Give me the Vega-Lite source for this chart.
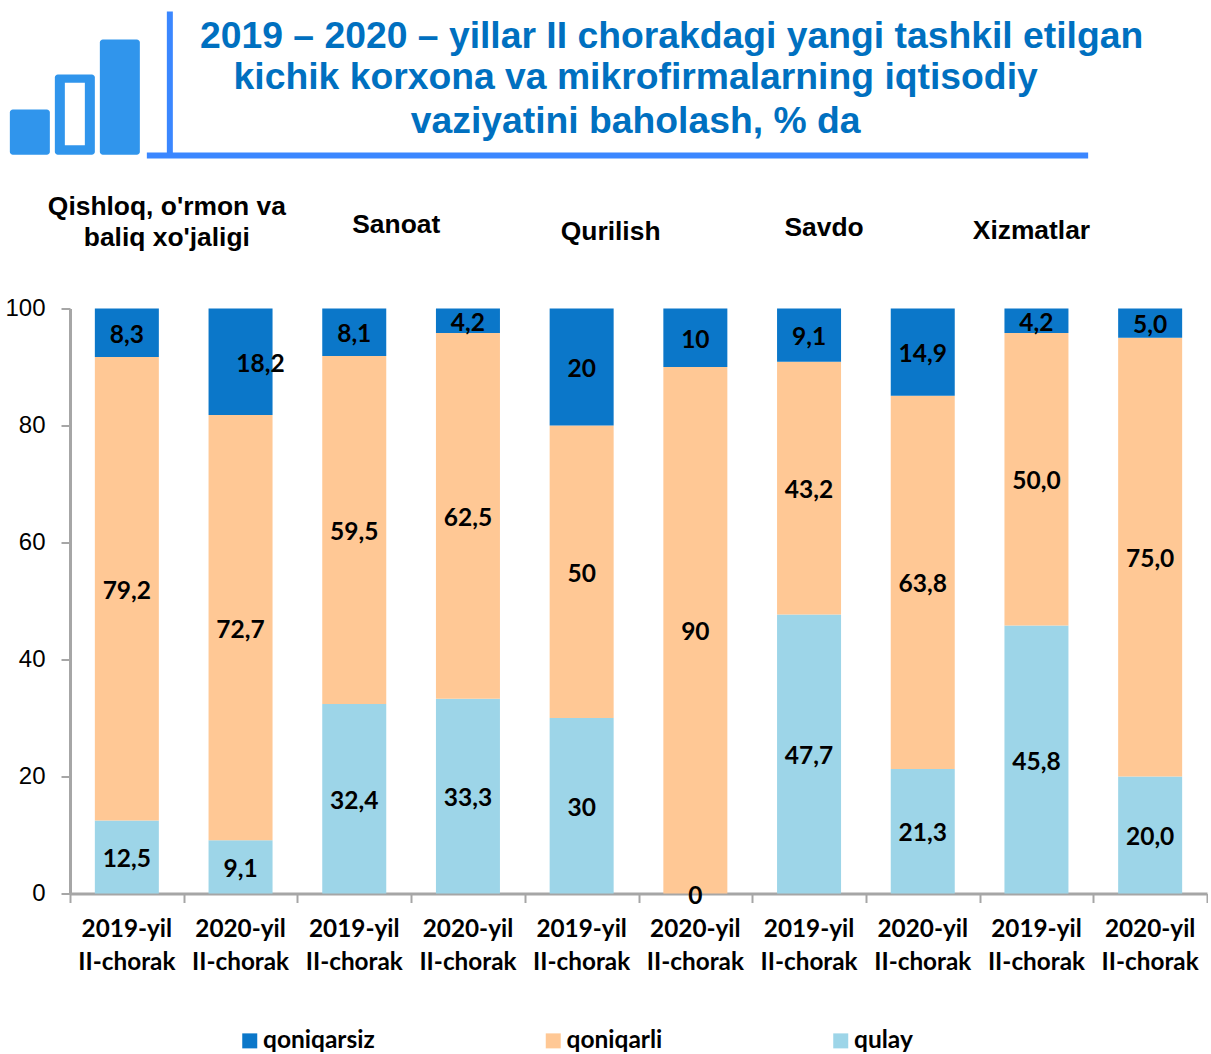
{"$schema":"https://vega.github.io/schema/vega-lite/v6.json","width":1137,"height":585,"padding":{"left":4,"top":7.5,"right":0,"bottom":0},"background":"white","config":{"view":{"stroke":null}},
"datasets":{"main":[
{"guruh":"Qishloq 2019","baho":"qulay","sira":1,"qiymat":12.5,"yozuv":"12,5"},{"guruh":"Qishloq 2019","baho":"qoniqarli","sira":2,"qiymat":79.2,"yozuv":"79,2"},{"guruh":"Qishloq 2019","baho":"qoniqarsiz","sira":3,"qiymat":8.3,"yozuv":"8,3"},
{"guruh":"Qishloq 2020","baho":"qulay","sira":1,"qiymat":9.1,"yozuv":"9,1"},{"guruh":"Qishloq 2020","baho":"qoniqarli","sira":2,"qiymat":72.7,"yozuv":"72,7"},{"guruh":"Qishloq 2020","baho":"qoniqarsiz","sira":3,"qiymat":18.2,"yozuv":"18,2"},
{"guruh":"Sanoat 2019","baho":"qulay","sira":1,"qiymat":32.4,"yozuv":"32,4"},{"guruh":"Sanoat 2019","baho":"qoniqarli","sira":2,"qiymat":59.5,"yozuv":"59,5"},{"guruh":"Sanoat 2019","baho":"qoniqarsiz","sira":3,"qiymat":8.1,"yozuv":"8,1"},
{"guruh":"Sanoat 2020","baho":"qulay","sira":1,"qiymat":33.3,"yozuv":"33,3"},{"guruh":"Sanoat 2020","baho":"qoniqarli","sira":2,"qiymat":62.5,"yozuv":"62,5"},{"guruh":"Sanoat 2020","baho":"qoniqarsiz","sira":3,"qiymat":4.2,"yozuv":"4,2"},
{"guruh":"Qurilish 2019","baho":"qulay","sira":1,"qiymat":30,"yozuv":"30"},{"guruh":"Qurilish 2019","baho":"qoniqarli","sira":2,"qiymat":50,"yozuv":"50"},{"guruh":"Qurilish 2019","baho":"qoniqarsiz","sira":3,"qiymat":20,"yozuv":"20"},
{"guruh":"Qurilish 2020","baho":"qulay","sira":1,"qiymat":0,"yozuv":"0"},{"guruh":"Qurilish 2020","baho":"qoniqarli","sira":2,"qiymat":90,"yozuv":"90"},{"guruh":"Qurilish 2020","baho":"qoniqarsiz","sira":3,"qiymat":10,"yozuv":"10"},
{"guruh":"Savdo 2019","baho":"qulay","sira":1,"qiymat":47.7,"yozuv":"47,7"},{"guruh":"Savdo 2019","baho":"qoniqarli","sira":2,"qiymat":43.2,"yozuv":"43,2"},{"guruh":"Savdo 2019","baho":"qoniqarsiz","sira":3,"qiymat":9.1,"yozuv":"9,1"},
{"guruh":"Savdo 2020","baho":"qulay","sira":1,"qiymat":21.3,"yozuv":"21,3"},{"guruh":"Savdo 2020","baho":"qoniqarli","sira":2,"qiymat":63.8,"yozuv":"63,8"},{"guruh":"Savdo 2020","baho":"qoniqarsiz","sira":3,"qiymat":14.9,"yozuv":"14,9"},
{"guruh":"Xizmatlar 2019","baho":"qulay","sira":1,"qiymat":45.8,"yozuv":"45,8"},{"guruh":"Xizmatlar 2019","baho":"qoniqarli","sira":2,"qiymat":50,"yozuv":"50,0"},{"guruh":"Xizmatlar 2019","baho":"qoniqarsiz","sira":3,"qiymat":4.2,"yozuv":"4,2"},
{"guruh":"Xizmatlar 2020","baho":"qulay","sira":1,"qiymat":20,"yozuv":"20,0"},{"guruh":"Xizmatlar 2020","baho":"qoniqarli","sira":2,"qiymat":75,"yozuv":"75,0"},{"guruh":"Xizmatlar 2020","baho":"qoniqarsiz","sira":3,"qiymat":5,"yozuv":"5,0"}
],
"etiketka":[{"guruh":"Qishloq 2019","t":"2019-yil\nII-chorak"},{"guruh":"Qishloq 2020","t":"2020-yil\nII-chorak"},{"guruh":"Sanoat 2019","t":"2019-yil\nII-chorak"},{"guruh":"Sanoat 2020","t":"2020-yil\nII-chorak"},{"guruh":"Qurilish 2019","t":"2019-yil\nII-chorak"},{"guruh":"Qurilish 2020","t":"2020-yil\nII-chorak"},{"guruh":"Savdo 2019","t":"2019-yil\nII-chorak"},{"guruh":"Savdo 2020","t":"2020-yil\nII-chorak"},{"guruh":"Xizmatlar 2019","t":"2019-yil\nII-chorak"},{"guruh":"Xizmatlar 2020","t":"2020-yil\nII-chorak"}]},
"data":{"name":"main"},
"encoding":{
"x":{"field":"guruh","type":"nominal","title":null,"sort":null,"axis":null,
"scale":{"domain":["Qishloq 2019","Qishloq 2020","Sanoat 2019","Sanoat 2020","Qurilish 2019","Qurilish 2020","Savdo 2019","Savdo 2020","Xizmatlar 2019","Xizmatlar 2020"],"paddingInner":0,"paddingOuter":0}}
},
"layer":[
{"mark":{"type":"bar","size":64},
"encoding":{
"x":{"field":"guruh","type":"nominal","title":null,"sort":null,
"scale":{"domain":["Qishloq 2019","Qishloq 2020","Sanoat 2019","Sanoat 2020","Qurilish 2019","Qurilish 2020","Savdo 2019","Savdo 2020","Xizmatlar 2019","Xizmatlar 2020"],"paddingInner":0,"paddingOuter":0},
"axis":{"labels":false,"tickBand":"extent","tickSize":9,"tickWidth":2,"tickColor":"#A6A6A6","domainColor":"#A6A6A6","domainWidth":3}},
"y":{"field":"qiymat","type":"quantitative","stack":"zero","title":null,
"scale":{"domain":[0,100],"nice":false},
"axis":{"values":[0,20,40,60,80,100],"grid":false,"labelFont":"Liberation Sans","labelFontSize":24,"labelColor":"#000000","labelPadding":16,"tickSize":9,"tickWidth":2,"tickColor":"#A6A6A6","domainColor":"#A6A6A6","domainWidth":3}},
"color":{"field":"baho","type":"nominal","scale":{"domain":["qoniqarsiz","qoniqarli","qulay"],"range":["#0B77C9","#FFC895","#9DD5E8"]},
"legend":{"title":null,"orient":"none","legendX":167.5,"legendY":720,"direction":"horizontal","columnPadding":165.5,"symbolType":"square","symbolSize":225,"labelFont":"Lato","labelFontWeight":"bold","labelFontSize":24.5,"labelColor":"#000000","labelOffset":1}},
"order":{"field":"sira","type":"quantitative"}}},
{"transform":[{"filter":"datum.yozuv !== '18,2'"}],"mark":{"type":"text","font":"Lato","fontWeight":"bold","fontSize":24.5,"color":"#000000","baseline":"middle","dy":3},
"encoding":{"y":{"field":"qiymat","type":"quantitative","stack":"zero","bandPosition":0.5,"axis":null},"text":{"field":"yozuv"},"detail":{"field":"baho"},"order":{"field":"sira","type":"quantitative"}}},
{"transform":[{"filter":"datum.yozuv === '18,2'"}],"mark":{"type":"text","font":"Lato","fontWeight":"bold","fontSize":24.5,"color":"#000000","baseline":"middle","dx":20,"dy":3},
"encoding":{"y":{"datum":90.9,"axis":null},"text":{"field":"yozuv"}}},
{"data":{"name":"etiketka"},"mark":{"type":"text","font":"Lato","fontWeight":"bold","fontSize":24.3,"color":"#000000","lineBreak":"\n","lineHeight":33,"baseline":"middle"},"encoding":{"y":{"datum":-6.24,"axis":null},"text":{"field":"t"}}},
{"data":{"values":[{"t":"Qishloq, o'rmon va\nbaliq xo'jaligi"}]},"mark":{"type":"text","font":"Liberation Sans","fontWeight":"bold","fontSize":26.4,"color":"#000000","lineBreak":"\n","lineHeight":31,"baseline":"middle","dx":40},"encoding":{"x":{"datum":"Qishloq 2019","axis":null},"y":{"datum":117.4,"axis":null},"text":{"field":"t"}}},
{"data":{"values":[{"t":"Sanoat"}]},"mark":{"type":"text","font":"Liberation Sans","fontWeight":"bold","fontSize":26.4,"color":"#000000","baseline":"middle","dx":42},"encoding":{"x":{"datum":"Sanoat 2019","axis":null},"y":{"datum":114.33,"axis":null},"text":{"field":"t"}}},
{"data":{"values":[{"t":"Qurilish"}]},"mark":{"type":"text","font":"Liberation Sans","fontWeight":"bold","fontSize":26.4,"color":"#000000","baseline":"middle","dx":29},"encoding":{"x":{"datum":"Qurilish 2019","axis":null},"y":{"datum":113.13,"axis":null},"text":{"field":"t"}}},
{"data":{"values":[{"t":"Savdo"}]},"mark":{"type":"text","font":"Liberation Sans","fontWeight":"bold","fontSize":26.4,"color":"#000000","baseline":"middle","dx":15},"encoding":{"x":{"datum":"Savdo 2019","axis":null},"y":{"datum":113.68,"axis":null},"text":{"field":"t"}}},
{"data":{"values":[{"t":"Xizmatlar"}]},"mark":{"type":"text","font":"Liberation Sans","fontWeight":"bold","fontSize":26.4,"color":"#000000","baseline":"middle","dx":-5},"encoding":{"x":{"datum":"Xizmatlar 2019","axis":null},"y":{"datum":113.33,"axis":null},"text":{"field":"t"}}},
{"data":{"values":[{"t":"2019 – 2020 – yillar II chorakdagi yangi tashkil etilgan"}]},"mark":{"type":"text","font":"Liberation Sans","fontWeight":"bold","fontSize":37.3,"color":"#0070C0","baseline":"middle","dx":90},"encoding":{"x":{"datum":"Qurilish 2019","axis":null},"y":{"datum":146.46,"axis":null},"text":{"field":"t"}}},
{"data":{"values":[{"t":"kichik korxona va mikrofirmalarning iqtisodiy"}]},"mark":{"type":"text","font":"Liberation Sans","fontWeight":"bold","fontSize":37.3,"color":"#0070C0","baseline":"middle","dx":54},"encoding":{"x":{"datum":"Qurilish 2019","axis":null},"y":{"datum":139.36,"axis":null},"text":{"field":"t"}}},
{"data":{"values":[{"t":"vaziyatini baholash, % da"}]},"mark":{"type":"text","font":"Liberation Sans","fontWeight":"bold","fontSize":37.3,"color":"#0070C0","baseline":"middle","dx":54},"encoding":{"x":{"datum":"Qurilish 2019","axis":null},"y":{"datum":131.96,"axis":null},"text":{"field":"t"}}},
{"data":{"values":[{"a":1}]},"mark":{"type":"rule","color":"#3B87FF","strokeWidth":6,"xOffset":43},"encoding":{"x":{"datum":"Qishloq 2019","axis":null},"y":{"datum":150.77,"axis":null},"y2":{"datum":126.15}}},
{"data":{"values":[{"a":1}]},"mark":{"type":"rule","color":"#3B87FF","strokeWidth":6,"xOffset":20,"x2Offset":-62},"encoding":{"x":{"datum":"Qishloq 2019","axis":null},"x2":{"datum":"Xizmatlar 2020"},"y":{"datum":126.15,"axis":null}}},
{"data":{"values":[{"a":1}]},"mark":{"type":"bar","size":40,"xOffset":-97,"color":"#3095EC","cornerRadius":3},"encoding":{"x":{"datum":"Qishloq 2019","axis":null},"y":{"datum":134.0,"axis":null},"y2":{"datum":126.3}}},
{"data":{"values":[{"a":1}]},"mark":{"type":"bar","size":40,"xOffset":-52,"color":"#3095EC","cornerRadius":3},"encoding":{"x":{"datum":"Qishloq 2019","axis":null},"y":{"datum":140.0,"axis":null},"y2":{"datum":126.3}}},
{"data":{"values":[{"a":1}]},"mark":{"type":"bar","size":20,"xOffset":-52,"color":"#FFFFFF"},"encoding":{"x":{"datum":"Qishloq 2019","axis":null},"y":{"datum":138.6,"axis":null},"y2":{"datum":127.9}}},
{"data":{"values":[{"a":1}]},"mark":{"type":"bar","size":40,"xOffset":-7,"color":"#3095EC","cornerRadius":3},"encoding":{"x":{"datum":"Qishloq 2019","axis":null},"y":{"datum":146.0,"axis":null},"y2":{"datum":126.3}}}
],
"resolve":{"axis":{"x":"independent","y":"independent"}}}
